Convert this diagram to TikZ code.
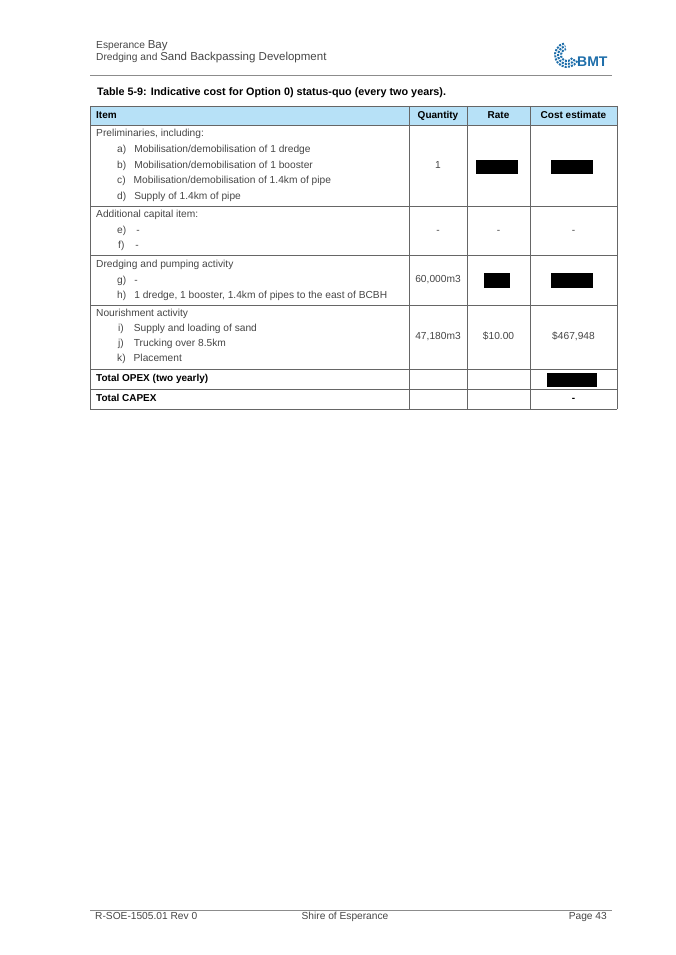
\documentclass[tikz,border=0pt]{standalone}
\usepackage{fontspec}
\setmainfont{Liberation Sans}
\definecolor{hdrblue}{RGB}{183,225,247}
\definecolor{bmtblue}{RGB}{30,110,170}
\definecolor{txtgray}{RGB}{70,70,70}
\tikzset{
  cell/.style={anchor=west,inner sep=0pt,text height=7pt,text depth=2pt,font=\fontsize{10.2}{11}\selectfont,text=txtgray},
  hcell/.style={inner sep=0pt,text height=7pt,text depth=2pt,font=\fontsize{10}{11}\selectfont\bfseries},
  redact/.style={fill=black},
  rule/.style={draw=black!45,line width=0.6pt}
}
\newcommand{\bigger}[1]{{\fontsize{11.5}{12}\selectfont #1}}
\begin{document}
\begin{tikzpicture}[x=1pt,y=-1pt]
   \useasboundingbox (0,0) rectangle (675,955);
   % page header
   \node[cell] (prj1) at (96,46) {Esperance \bigger{Bay}};
   \node[cell] (prj2) at (96,58) {Dredging and \bigger{Sand Backpassing Development}};
   \node[anchor=west,inner sep=0pt,font=\fontsize{14}{14}\selectfont\bfseries,text=bmtblue] (logo) at (577,62) {BMT};
   \foreach \r in {6,9,12}
      \draw[bmtblue,line width=2pt,dash pattern=on 2pt off 1.2pt] (567,55) ++(30:\r) arc (30:260:\r);
   \draw[rule] (90,75) -- (612,75);
   \node[anchor=west,inner sep=0pt,font=\fontsize{10.8}{12}\selectfont\bfseries] (caption) at (97,93)
      {Table 5-9: Indicative cost for Option 0) status-quo (every two years).};
   % table
   \fill[hdrblue] (90,106) rectangle (617,125);
   \foreach \y in {106,125,206,255,305,369,389,409}
      \draw[black!60,line width=0.6pt] (90,\y) -- (617,\y);
   \foreach \x in {90,409,467,530,617}
      \draw[black!60,line width=0.6pt] (\x,106) -- (\x,409);
   \node[hcell,anchor=west] (hitem) at (96,116) {Item};
   \node[hcell] (hqty) at (438,116) {Quantity};
   \node[hcell] (hrate) at (498.5,116) {Rate};
   \node[hcell] (hcost) at (573.5,116) {Cost estimate};
   % preliminaries
   \node[cell] (pre) at (96,134) {Preliminaries, including:};
   \node[cell] (pa) at (117,150) {a)\hspace{8pt}Mobilisation/demobilisation of 1 dredge};
   \node[cell] (pb) at (117,166) {b)\hspace{8pt}Mobilisation/demobilisation of 1 booster};
   \node[cell] (pc) at (117,181) {c)\hspace{8pt}Mobilisation/demobilisation of 1.4km of pipe};
   \node[cell] (pd) at (117,197) {d)\hspace{8pt}Supply of 1.4km of pipe};
   \node[cell,anchor=center] (q1) at (438,166) {1};
   \fill[redact] (476,160) rectangle (518,174);
   \fill[redact] (551,160) rectangle (593,174);
   % capital
   \node[cell] (cap) at (96,215) {Additional capital item:};
   \node[cell] (ce) at (117,231) {e)\hspace{10pt}-};
   \node[cell] (cf) at (118,246) {f)\hspace{11pt}-};
   \node[cell,anchor=center] (q2) at (438,231) {-};
   \node[cell,anchor=center] (r2) at (498.5,231) {-};
   \node[cell,anchor=center] (c2) at (573.5,231) {-};
   % dredging
   \node[cell] (dre) at (96,265) {Dredging and pumping activity};
   \node[cell] (dg) at (117,281) {g)\hspace{8pt}-};
   \node[cell] (dh) at (117,296) {h)\hspace{8pt}1 dredge, 1 booster, 1.4km of pipes to the east of BCBH};
   \node[cell,anchor=center] (q3) at (438,280) {60,000m3};
   \fill[redact] (484,273) rectangle (510,288);
   \fill[redact] (551,273) rectangle (593,288);
   % nourishment
   \node[cell] (nou) at (96,314) {Nourishment activity};
   \node[cell] (ni) at (118,329) {i)\hspace{10pt}Supply and loading of sand};
   \node[cell] (nj) at (118,344) {j)\hspace{10pt}Trucking over 8.5km};
   \node[cell] (nk) at (117,359) {k)\hspace{8pt}Placement};
   \node[cell,anchor=center] (q4) at (438,337) {47,180m3};
   \node[cell,anchor=center] (r4) at (498.5,337) {\$10.00};
   \node[cell,anchor=center] (c4) at (573.5,337) {\$467,948};
   % totals
   \node[hcell,anchor=west] (opex) at (96,379) {Total OPEX (two yearly)};
   \fill[redact] (547,373) rectangle (597,387);
   \node[hcell,anchor=west] (capex) at (96,399) {Total CAPEX};
   \node[hcell] (capexv) at (573.5,399) {-};
   % page footer
   \draw[rule] (90,910) -- (612,910);
   \node[cell] (doc) at (95,917) {R-SOE-1505.01 Rev 0};
   \node[cell,anchor=center] (shire) at (345,917) {Shire of Esperance};
   \node[cell,anchor=east] (page) at (607,917) {Page 43};
\end{tikzpicture}
\end{document}
